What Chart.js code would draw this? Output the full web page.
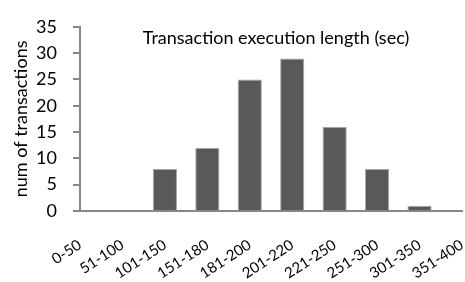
<!DOCTYPE html>
<html>
<head>
<meta charset="utf-8">
<script src="https://cdn.jsdelivr.net/npm/chart.js@4/dist/chart.umd.min.js"></script>
<style>
html,body{margin:0;padding:0;background:#fff;}
#wrap{width:465px;height:282px;position:relative;}
</style>
</head>
<body>
<div id="wrap"><canvas id="c" width="465" height="282"></canvas></div>
<script>
const categories = ["0-50","51-100","101-150","151-180","181-200","201-220","221-250","251-300","301-350","351-400"];
const counts = [0,0,8,12,25,29,16,8,1,0];
const yTicks = [0,5,10,15,20,25,30,35];
const chartTitle = "Transaction execution length (sec)";
const yTitle = "num of transactions";

const FONT = "Lato, 'Open Sans', sans-serif";
const AXIS = "#878787";

const insideTitle = {
  id: "insideTitle",
  afterDraw(chart) {
    const {ctx, chartArea} = chart;
    ctx.save();
    ctx.font = "18px " + FONT;
    ctx.fillStyle = "#000";
    ctx.textAlign = "center";
    ctx.textBaseline = "middle";
    ctx.fillText(chartTitle, (chartArea.left + chartArea.right) / 2 + 5, chartArea.top + 11);
    ctx.restore();
  }
};

new Chart(document.getElementById("c"), {
  type: "bar",
  data: {
    labels: categories,
    datasets: [{
      data: counts,
      backgroundColor: "#595959",
      borderColor: "#a8a8a8",
      borderWidth: 1,
      categoryPercentage: 1,
      barPercentage: 0.57
    }]
  },
  options: {
    responsive: false,
    animation: false,
    layout: { padding: { top: 14, right: 3, left: 0, bottom: 0 } },
    plugins: { legend: { display: false }, tooltip: { enabled: false }, title: { display: false } },
    scales: {
      x: {
        offset: false,
        grid: { display: false, drawTicks: false },
        border: { display: true, color: AXIS, width: 2 },
        ticks: {
          color: "#000",
          font: { family: FONT, size: 15 },
          minRotation: 33, maxRotation: 33,
          autoSkip: false,
          padding: 25
        },
        afterFit(scale) { scale.paddingLeft = 0; scale.paddingRight = 0; scale.height = 71; }
      },
      y: {
        min: 0, max: 35,
        afterBuildTicks(axis) { axis.ticks = yTicks.map(v => ({ value: v })); },
        grid: { drawOnChartArea: false, drawTicks: true, tickLength: 7, color: AXIS, lineWidth: 2 },
        border: { display: true, color: AXIS, width: 2 },
        ticks: { color: "#000", font: { family: FONT, size: 18 }, padding: 16 },
        title: { display: true, text: yTitle, color: "#000", font: { family: FONT, size: 18 }, padding: { top: 10, bottom: 0 } },
        afterFit(scale) { scale.width = 80; }
      }
    }
  },
  plugins: [insideTitle]
});
</script>
</body>
</html>
